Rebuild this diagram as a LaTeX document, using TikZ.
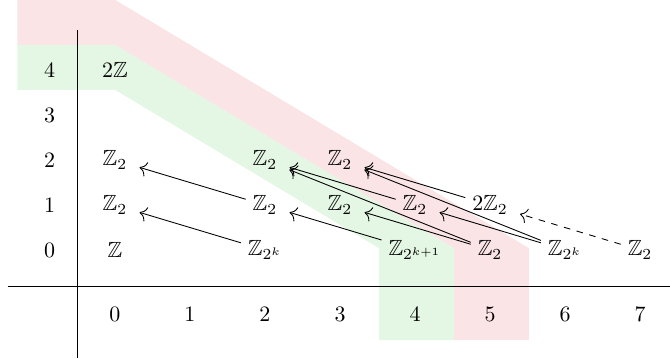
\documentclass[tikz,border=0pt]{standalone}
\usepackage{amsmath,amssymb}
\usetikzlibrary{arrows.meta}
\definecolor{bandGreen}{RGB}{228,247,228}
\definecolor{bandRed}{RGB}{250,228,230}
\tikzset{
  entry/.style={inner sep=3pt},
  axislabel/.style={inner sep=2pt},
  diff/.style={-{To[scale=1.3]}, draw=black, shorten >=2.5pt},
  diffdash/.style={diff, dashed}
}

\begin{document}
\begin{tikzpicture}[x=1.2cm, y=0.72cm]
\useasboundingbox (-1.533,-2.4) rectangle (7.4,5.556);

% bands
\fill[bandRed] (-1.3,4.56) -- (0,4.56) -- (4.52,0.04) -- (4.52,-2) -- (5.52,-2)
  -- (5.52,0.04) -- (0,5.56) -- (-1.3,5.56) -- cycle;
\fill[bandGreen] (-1.3,3.56) -- (0,3.56) -- (3.52,0.04) -- (3.52,-2) -- (4.52,-2)
  -- (4.52,0.04) -- (0,4.56) -- (-1.3,4.56) -- cycle;

% axes
\draw (-1.43,-0.82) -- (7.4,-0.82);
\draw (-0.5,4.89) -- (-0.5,-2.4);
\foreach \p in {0,...,7} \node[axislabel] (col\p) at (\p,-1.44) {$\p$};
\foreach \q in {0,...,4} \node[axislabel] (row\q) at (-0.87,\q) {$\q$};

% E_2 page
\node[entry] (e00) at (0,0) {$\mathbb{Z}$};
\node[entry] (e01) at (0,1) {$\mathbb{Z}_2$};
\node[entry] (e02) at (0,2) {$\mathbb{Z}_2$};
\node[entry] (e04) at (0,4) {$2\mathbb{Z}$};
\node[entry] (e20) at (2,0) {$\mathbb{Z}_{2^k}$};
\node[entry] (e21) at (2,1) {$\mathbb{Z}_2$};
\node[entry] (e22) at (2,2) {$\mathbb{Z}_2$};
\node[entry] (e31) at (3,1) {$\mathbb{Z}_2$};
\node[entry] (e32) at (3,2) {$\mathbb{Z}_2$};
\node[entry] (e40) at (4,0) {$\mathbb{Z}_{2^{k+1}}$};
\node[entry] (e41) at (4,1) {$\mathbb{Z}_2$};
\node[entry] (e50) at (5,0) {$\mathbb{Z}_2$};
\node[entry] (e51) at (5,1) {$2\mathbb{Z}_2$};
\node[entry] (e60) at (6,0) {$\mathbb{Z}_{2^k}$};
\node[entry] (e70) at (7,0) {$\mathbb{Z}_2$};

% differentials
\draw[diff] (e20) -- (e01);
\draw[diff] (e21) -- (e02);
\draw[diff] (e40) -- (e21);
\draw[diff] (e41) -- (e22);
\draw[diff] (e50) -- (e31);
\draw[diff] (e50) -- (e22);
\draw[diff] (e60) -- (e41);
\draw[diff] (e60) -- (e32);
\draw[diff] (e51) -- (e32);
\draw[diffdash] (e70) -- (e51);
\end{tikzpicture}
\end{document}
